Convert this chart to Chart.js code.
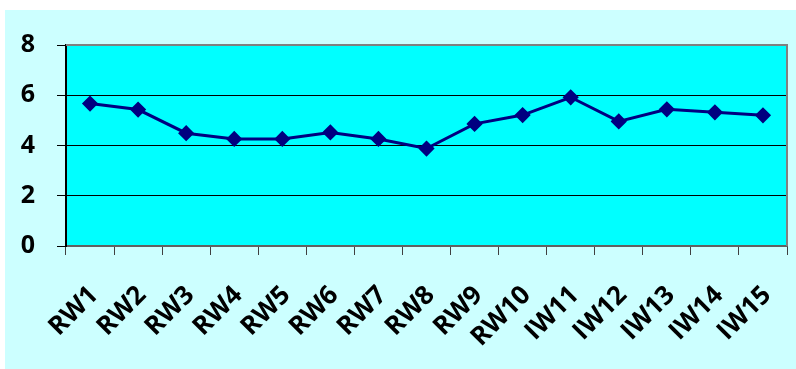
<!DOCTYPE html>
<html>
<head>
<meta charset="utf-8">
<style>
  html, body { margin: 0; padding: 0; background: #ffffff; }
  canvas { display: block; }
</style>
<script src="https://cdn.jsdelivr.net/npm/chart.js@4"></script>
</head>
<body>
<canvas id="chart" width="796" height="369"></canvas>
<script>
// Weekly readings
const categories = ['RW1', 'RW2', 'RW3', 'RW4', 'RW5', 'RW6', 'RW7', 'RW8', 'RW9', 'RW10', 'IW11', 'IW12', 'IW13', 'IW14', 'IW15'];
const values = [5.67, 5.43, 4.49, 4.26, 4.26, 4.52, 4.26, 3.88, 4.86, 5.21, 5.92, 4.96, 5.44, 5.32, 5.2];
const yTicks = [0, 2, 4, 6, 8];

const FONT = '"Open Sans", "Liberation Sans", sans-serif';

// Paints the outer panel and the plot area fill, plus the plot frame
const backdrop = {
  id: 'backdrop',
  beforeDraw(chart) {
    const { ctx, chartArea: a } = chart;
    ctx.save();
    ctx.fillStyle = '#ccffff';
    ctx.fillRect(5, 10, chart.width - 5, chart.height - 10);
    ctx.fillStyle = '#00ffff';
    ctx.fillRect(a.left, a.top, a.right - a.left, a.bottom - a.top);
    ctx.restore();
  },
  afterDatasetsDraw(chart) {
    const { ctx, chartArea: a } = chart;
    ctx.save();
    ctx.strokeStyle = '#808080';
    ctx.lineWidth = 2;
    ctx.beginPath();
    ctx.moveTo(a.left, a.top);
    ctx.lineTo(a.right, a.top);
    ctx.lineTo(a.right, a.bottom);
    ctx.stroke();
    ctx.restore();
  }
};

new Chart(document.getElementById('chart'), {
  type: 'line',
  data: {
    labels: categories,
    datasets: [{
      data: values,
      borderColor: '#000080',
      backgroundColor: '#000080',
      borderWidth: 3,
      pointStyle: 'rectRot',
      pointRadius: 6,
      pointHoverRadius: 6,
      tension: 0
    }]
  },
  options: {
    responsive: false,
    animation: false,
    layout: { padding: { left: 5, top: 45, right: 6, bottom: 0 } },
    plugins: { legend: { display: false }, tooltip: { enabled: false } },
    scales: {
      x: {
        offset: true,
        grid: {
          offset: true,
          drawOnChartArea: false,
          drawTicks: true,
          tickLength: 9,
          color: '#404040'
        },
        border: { display: true, color: '#606060', width: 2 },
        ticks: {
          autoSkip: false,
          minRotation: 45,
          maxRotation: 45,
          padding: 25,
          labelOffset: 4,
          color: '#000000',
          font: { family: FONT, size: 26, weight: 'bold' }
        },
        afterFit(scale) {
          scale.height = 123;
          scale.paddingLeft = 0;
          scale.paddingRight = 0;
        }
      },
      y: {
        min: 0,
        max: 8,
        afterBuildTicks(scale) { scale.ticks = yTicks.map(v => ({ value: v })); },
        grid: {
          color: '#000000',
          lineWidth: 1,
          tickLength: 9,
          drawTicks: true
        },
        border: { display: true, color: '#000000', width: 2 },
        ticks: {
          padding: 22,
          color: '#000000',
          font: { family: FONT, size: 25, weight: 'bold' }
        },
        afterFit(scale) {
          scale.width = 61;
          scale.paddingTop = 0;
          scale.paddingBottom = 0;
        }
      }
    }
  },
  plugins: [backdrop]
});
</script>
</body>
</html>
